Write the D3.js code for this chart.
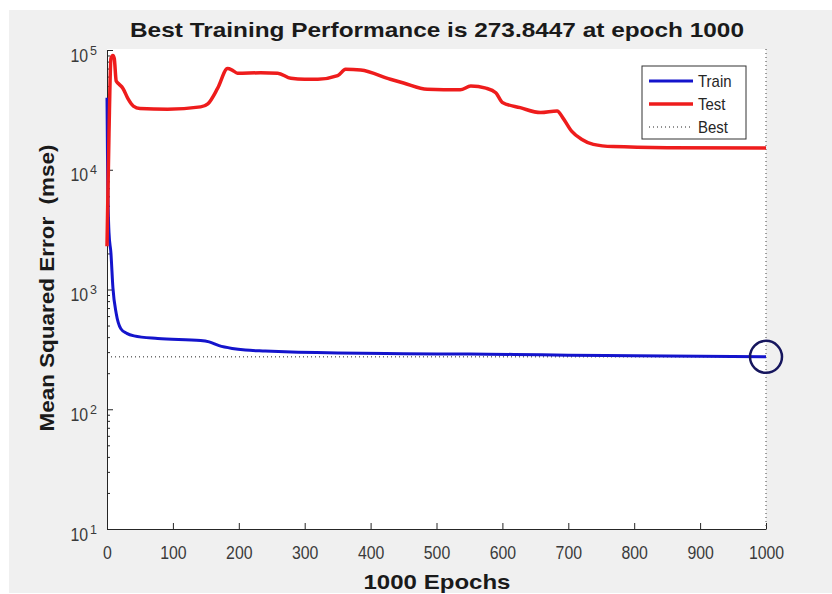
<!DOCTYPE html>
<html lang="en">
<head>
<meta charset="UTF-8">
<script src="https://d3js.org/d3.v7.min.js"></script>
<title>Best Training Performance</title>
<style>
  body { margin:0; background:#fff; }
  text { font-family: "Liberation Sans", Arial, Helvetica, sans-serif; }
  .axis .tick text { fill:#3a3a3a; font-size:18px; }
  .axis path, .axis line { stroke:#262626; stroke-width:1px; }
  .label { font-weight:bold; font-size:21px; fill:#1a1a1a; }
  .legend text { font-size:17px; fill:#262626; }
</style>
</head>
<body>
<svg id="chart" width="832" height="594"></svg>
<script>
// values
const trainEpochs = [0, 1, 3, 6, 9, 14, 21, 30, 41, 77, 142, 155, 170, 190, 210, 240, 280, 350, 450, 550, 617, 700, 800, 900, 1000];
const trainMse = [40000, 9000, 3000, 2000, 1030, 630, 470, 430, 410, 390, 375, 365, 340, 322, 312, 306, 300, 295, 291, 289, 287, 283, 280, 277, 273.8447];

const testEpochs = [0, 3, 6, 9, 11, 14, 18, 24, 32, 40, 50, 92, 142, 153, 168, 183, 190, 198, 233, 259, 279, 300, 320, 350, 362, 385, 430, 450, 486, 536, 552, 575, 590, 600, 627, 658, 683, 692, 705, 720, 738, 768, 850, 1000];
const testMse = [2300, 20000, 85000, 90000, 85000, 55000, 52000, 48000, 39000, 34000, 32500, 32000, 33500, 35500, 48000, 70000, 68000, 64000, 64500, 64000, 58000, 57000, 57000, 61000, 69000, 68000, 57000, 53000, 47000, 46500, 50000, 48000, 44000, 36500, 33000, 30000, 31000, 27000, 21000, 18000, 16300, 15600, 15300, 15200];

const bestEpoch = 1000;
const bestMse = 273.8447;

const xTicks = [0, 100, 200, 300, 400, 500, 600, 700, 800, 900, 1000];
const yExponents = [1, 2, 3, 4, 5];
const legendNames = ["Train", "Test", "Best"];

// the source picture is a bit squeezed sideways, so text gets narrowed
const squeeze = 0.88;
function narrow(sel) {
  sel.each(function() {
    let w = this.getComputedTextLength();
    d3.select(this).attr("textLength", w * squeeze).attr("lengthAdjust", "spacingAndGlyphs");
  });
}

const svg = d3.select("#chart");

// figure background (screenshot has a thin white border top/left)
svg.append("rect").attr("x", 9).attr("y", 10).attr("width", 823).attr("height", 583)
  .style("fill", "#f0f0f0");

const x = d3.scaleLinear().domain([0, 1000]).range([107, 766]);
const y = d3.scaleLog().domain([10, 1e5]).range([529, 50]);

svg.append("rect")
  .attr("x", x(0)).attr("y", y(1e5) - 1)
  .attr("width", x(1000) - x(0)).attr("height", y(10) - y(1e5) + 2)
  .style("fill", "#fff");

// bottom axis, ticks pointing in
svg.append("g").attr("class", "axis")
  .attr("transform", "translate(0," + y(10) + ")")
  .call(d3.axisBottom(x).tickValues(xTicks).tickFormat(d3.format("d"))
    .tickSizeInner(-6).tickSizeOuter(0).tickPadding(17))
  .selectAll(".tick text").call(narrow);

// left axis: major + minor ticks pointing in
const majors = yExponents.map(e => Math.pow(10, e));
const minors = [];
yExponents.slice(0, -1).forEach(e => { for (let k = 2; k < 10; k++) minors.push(k * Math.pow(10, e)); });

svg.append("g").attr("class", "axis")
  .attr("transform", "translate(" + x(0) + ",0)")
  .call(d3.axisLeft(y).tickValues(majors).tickSizeInner(-6).tickSizeOuter(0).tickFormat(""));
svg.append("g").attr("class", "axis")
  .attr("transform", "translate(" + x(0) + ",0)")
  .call(d3.axisLeft(y).tickValues(minors).tickSizeInner(-3).tickSizeOuter(0).tickFormat(""))
  .select(".domain").remove();

// 10^n labels
yExponents.forEach(function(e) {
  let t = svg.append("text")
    .attr("x", 97).attr("y", y(Math.pow(10, e)) + 11.5)
    .attr("text-anchor", "end")
    .style("fill", "#3a3a3a").style("font-size", "18px");
  t.append("tspan").text("10").call(narrow);
  t.append("tspan").attr("dx", 2).attr("dy", -7).style("font-size", "12.5px").text(e);
});

// best markers
svg.append("line")
  .attr("x1", x(0)).attr("x2", x(bestEpoch))
  .attr("y1", y(bestMse)).attr("y2", y(bestMse))
  .style("stroke", "#222").style("stroke-width", 1).style("stroke-dasharray", "1,3");
svg.append("line")
  .attr("x1", x(bestEpoch)).attr("x2", x(bestEpoch))
  .attr("y1", y(1e5) - 1).attr("y2", y(10))
  .style("stroke", "#444").style("stroke-width", 1).style("stroke-dasharray", "1,3");

const line = d3.line()
  .x(d => x(d[0])).y(d => y(d[1]))
  .curve(d3.curveMonotoneX);

const trainData = trainEpochs.map((e, i) => [e, trainMse[i]]);
const testData = testEpochs.map((e, i) => [e, testMse[i]]);

svg.append("path").datum(trainData)
  .attr("d", line)
  .style("fill", "none").style("stroke", "#1414cc").style("stroke-width", 3);

svg.append("path").datum(testData)
  .attr("d", line)
  .style("fill", "none").style("stroke", "#ee1c1c").style("stroke-width", 3.5);

// circle at best epoch
svg.append("circle")
  .attr("cx", x(bestEpoch)).attr("cy", y(bestMse)).attr("r", 16)
  .style("fill", "none").style("stroke", "#16165e").style("stroke-width", 2.5);

// title and axis labels
svg.append("text").attr("class", "label")
  .attr("x", 437).attr("y", 37).attr("text-anchor", "middle")
  .attr("textLength", 614).attr("lengthAdjust", "spacingAndGlyphs")
  .text("Best Training Performance is " + bestMse + " at epoch " + bestEpoch);

svg.append("text").attr("class", "label")
  .attr("x", 437).attr("y", 589).attr("text-anchor", "middle")
  .attr("textLength", 147).attr("lengthAdjust", "spacingAndGlyphs")
  .text("1000 Epochs");

svg.append("text").attr("class", "label")
  .attr("transform", "translate(54,288) rotate(-90)")
  .attr("text-anchor", "middle")
  .attr("textLength", 287).attr("lengthAdjust", "spacingAndGlyphs")
  .style("white-space", "pre")
  .text("Mean Squared Error  (mse)");

// legend
const legend = svg.append("g").attr("class", "legend");
legend.append("rect")
  .attr("x", 642).attr("y", 66).attr("width", 104).attr("height", 73)
  .style("fill", "#fff").style("stroke", "#333").style("stroke-width", 1);

const legendStyles = [
  { color: "#1414cc", width: 3, dash: null },
  { color: "#ee1c1c", width: 3.5, dash: null },
  { color: "#222", width: 1, dash: "1,3" }
];
legendNames.forEach(function(name, i) {
  let ly = 81 + i * 23;
  legend.append("line")
    .attr("x1", 649).attr("x2", 693).attr("y1", ly).attr("y2", ly)
    .style("stroke", legendStyles[i].color)
    .style("stroke-width", legendStyles[i].width)
    .style("stroke-dasharray", legendStyles[i].dash);
  legend.append("text")
    .attr("x", 698).attr("y", ly).attr("dy", "0.36em")
    .text(name)
    .call(narrow);
});
</script>
</body>
</html>
